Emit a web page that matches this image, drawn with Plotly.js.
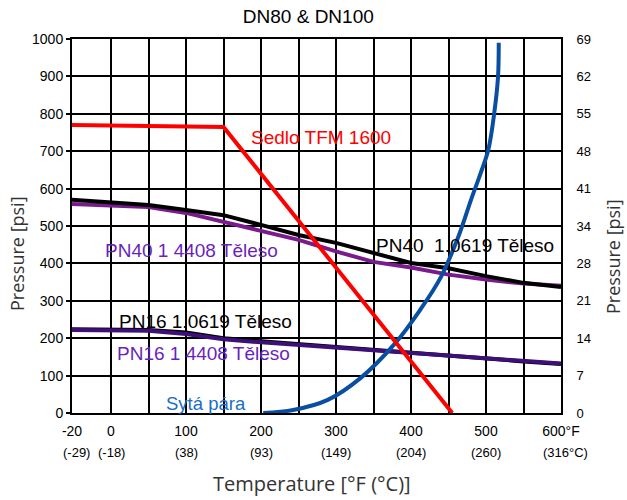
<!DOCTYPE html>
<html>
<head>
<meta charset="utf-8">
<script src="https://cdn.plot.ly/plotly-3.0.1.min.js"></script>
<style>html,body{margin:0;padding:0;background:#fff;}#chart{width:627px;height:500px;}</style>
</head>
<body>
<div id="chart"></div>
<script>
// ---- data (temperature in °F, pressure in psi) ----
const seatT = [-20, 150, 455];
const seatP = [770, 765, 0];

const bodyT = [-20, 50, 100, 150, 200, 250, 300, 350, 400, 450, 500, 550, 600];
const pn40SteelP = [570, 556, 543, 529, 503, 476, 455, 428, 401, 387, 366, 348, 337];
const pn40StainlessP = [559, 551, 535, 511, 487, 463, 432, 404, 389, 370, 357, 346, 340];
const pn16SteelP = [224, 222, 215, 200, 192, 184, 176, 168, 160, 152, 145, 138, 131];
const pn16StainlessP = [222, 220, 211, 197, 189, 182, 174, 166, 159, 152, 145, 138, 132];

const steamT = [203, 243, 289, 333, 377, 413, 440, 464, 480, 493, 503, 511, 516, 517];
const steamP = [0, 8, 35, 94, 182, 278, 364, 476, 570, 642, 703, 802, 898, 990];

const tickTempsF = [-20, 0, 50, 100, 150, 200, 250, 300, 350, 400, 450, 500, 550, 600];
const tickTextF = ['-20', '0', '', '100', '', '200', '', '300', '', '400', '', '500', '', '600°F'];
const celsiusTemps = [-20, 0, 100, 200, 300, 400, 500, 600];
const celsiusText = ['(-29)', '(-18)', '(38)', '(93)', '(149)', '(204)', '(260)', '(316°C)'];

const psiTicks = [0, 100, 200, 300, 400, 500, 600, 700, 800, 900, 1000];
const rightTickText = ['0', '7', '14', '21', '28', '34', '41', '48', '55', '62', '69'];

// broken temperature axis: the -20..0 segment is stretched as in the original
const fx = t => (t < 0 ? t * 52 / 20 : t);
const X = arr => arr.map(fx);

const W = 627, H = 500, L = 72, R = 66, T = 39, B = 87;
const pw = W - L - R, ph = H - T - B;
const px = x => (x - L) / pw;
const py = y => (H - B - y) / ph;

const arial = 'Liberation Sans, Arial, sans-serif';
const sans = 'Open Sans, Noto Sans, sans-serif';

const traces = [
  {x: X(bodyT), y: pn40StainlessP, mode: 'lines', line: {color: '#7b1a8c', width: 4}, name: 'PN40 1.4408'},
  {x: X(bodyT), y: pn40SteelP, mode: 'lines', line: {color: '#000000', width: 4}, name: 'PN40 1.0619'},
  {x: X(bodyT), y: pn16SteelP, mode: 'lines', line: {color: '#000000', width: 4}, name: 'PN16 1.0619'},
  {x: X(bodyT), y: pn16StainlessP, mode: 'lines', line: {color: '#3e0f78', width: 4}, name: 'PN16 1.4408'},
  {x: X(steamT), y: steamP, mode: 'lines', line: {color: '#0a4ea2', width: 4, shape: 'spline', smoothing: 1}, name: 'Sytá pára'},
  {x: X(seatT), y: seatP, mode: 'lines', line: {color: '#ff0000', width: 4}, name: 'Sedlo TFM 1600'},
  // invisible copy on the secondary (right) axis so that axis is drawn
  {x: X(seatT), y: seatP, yaxis: 'y2', mode: 'lines', opacity: 0, line: {width: 0}, hoverinfo: 'skip', name: 'right axis'}
];

const labelFont = (c, s) => ({family: arial, size: s || 19, color: c});
const annotations = [
  {text: 'Sedlo TFM 1600', x: px(321), y: py(137), font: labelFont('#ff0000')},
  {text: 'PN40 1 4408 Těleso', x: px(191), y: py(250), font: labelFont('#6a1fc0')},
  {text: 'PN40  1.0619 Těleso', x: px(465), y: py(245), font: labelFont('#000000')},
  {text: 'PN16 1.0619 Těleso', x: px(205), y: py(321), font: labelFont('#000000')},
  {text: 'PN16 1 4408 Těleso', x: px(203), y: py(353), font: labelFont('#6a1fc0')},
  {text: 'Sytá pára', x: px(206), y: py(403), font: labelFont('#1a6dc6', 18.5)},
  {text: 'Pressure [psi]', x: px(17), y: py(254), textangle: -90, font: {family: sans, size: 18, color: '#333'}},
  {text: 'Pressure [psi]', x: px(613), y: py(257), textangle: -90, font: {family: sans, size: 18, color: '#333'}},
  {text: 'Temperature [°F (°C)]', x: px(312), y: py(483), font: {family: sans, size: 20, color: '#333'}}
].map(a => Object.assign({xref: 'paper', yref: 'paper', xanchor: 'center', yanchor: 'middle', showarrow: false}, a));

celsiusTemps.forEach((t, i) => {
  annotations.push({
    text: celsiusText[i], xref: 'x', yref: 'paper', x: fx(t), y: py(452),
    xanchor: 'center', yanchor: 'middle', showarrow: false,
    xshift: i === 0 ? 4 : (i === celsiusTemps.length - 1 ? 4 : 0),
    font: {family: arial, size: 13, color: '#000'}
  });
});

const layout = {
  width: W, height: H,
  margin: {l: L, r: R, t: T, b: B, pad: 0},
  paper_bgcolor: '#fff', plot_bgcolor: '#fff',
  showlegend: false,
  title: {text: 'DN80 & DN100', font: {family: arial, size: 19, color: '#000'},
          x: 303 / W, xanchor: 'center', xref: 'paper', y: 1 - 16 / H, yanchor: 'middle', yref: 'container'},
  xaxis: {
    range: [fx(-20), 600], tickmode: 'array', tickvals: X(tickTempsF), ticktext: tickTextF,
    showgrid: true, gridcolor: '#000', gridwidth: 2, zeroline: false,
    showline: true, linecolor: '#000', linewidth: 2, mirror: true,
    ticks: '', ticklabelstandoff: 4, tickfont: {family: arial, size: 14, color: '#000'}, fixedrange: true
  },
  yaxis: {
    range: [0, 1000], tickmode: 'array', tickvals: psiTicks,
    showgrid: true, gridcolor: '#000', gridwidth: 2, zeroline: false,
    showline: true, linecolor: '#000', linewidth: 2, mirror: true,
    ticks: 'outside', ticklen: 4, tickcolor: '#000', tickwidth: 2,
    tickfont: {family: arial, size: 14, color: '#000'}, fixedrange: true
  },
  yaxis2: {
    range: [0, 1000], overlaying: 'y', side: 'right', tickmode: 'array',
    tickvals: psiTicks, ticktext: rightTickText, showgrid: false, zeroline: false,
    showline: false, ticks: 'outside', ticklen: 12, tickcolor: 'rgba(0,0,0,0)',
    tickfont: {family: arial, size: 13, color: '#000'}, fixedrange: true
  },
  annotations: annotations
};

Plotly.newPlot('chart', traces, layout, {displayModeBar: false, staticPlot: true});
</script>
</body>
</html>
